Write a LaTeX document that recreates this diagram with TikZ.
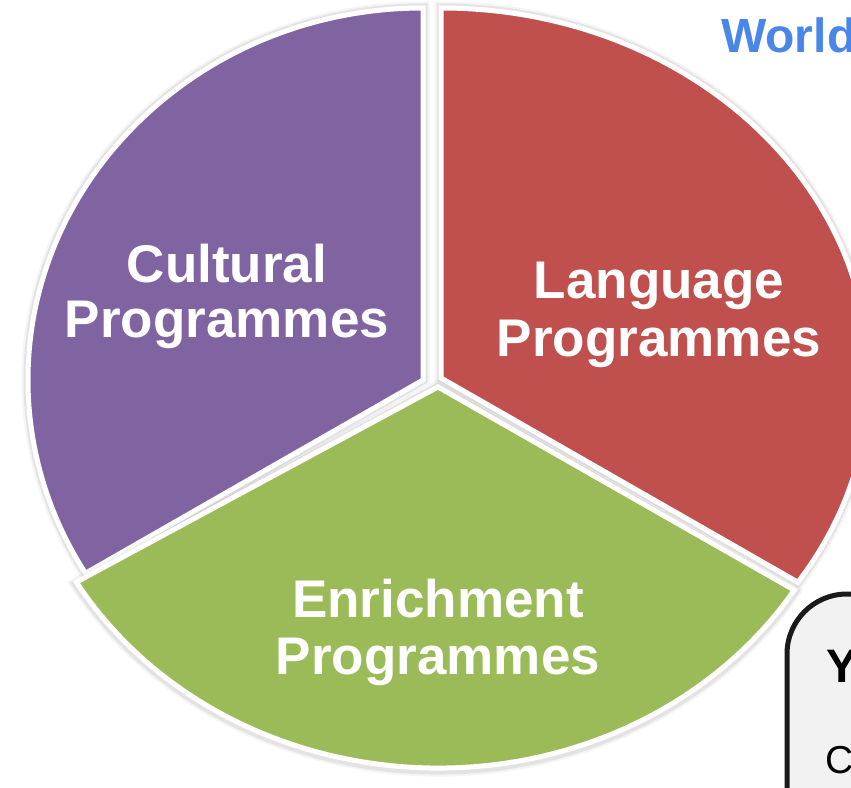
\documentclass[tikz,border=0pt]{standalone}
\usepackage{fontspec}
\setmainfont{Liberation Sans}
\definecolor{cpurple}{HTML}{8064A2}
\definecolor{cred}{HTML}{C0504D}
\definecolor{cgreen}{HTML}{9BBB59}
\definecolor{cblue}{HTML}{4A86E8}
\definecolor{cbox}{HTML}{F2F2F2}
\definecolor{cboxline}{HTML}{1A1A1A}
\tikzset{
  slice/.style={fill=#1, draw=white, line width=5pt, line join=miter},
  shadowa/.style={draw=black, line width=13pt, opacity=0.04, line join=miter},
  shadowb/.style={draw=black, line width=9pt, opacity=0.07, line join=miter},
  lbl/.style={text=white, font=\fontsize{53}{57}\selectfont\bfseries, inner sep=0pt, anchor=base},
}
\begin{document}
\begin{tikzpicture}[x=1pt,y=1pt]
\useasboundingbox (0,0) rectangle (851,-787);
\clip (0,0) rectangle (851,-787);
\fill[white] (0,0) rectangle (851,-787);
% purple slice
\coordinate (P) at (423,-380);
\draw[shadowa, shift={(0,-2)}] (P) -- ++(0,372) arc[start angle=90, end angle=211.3, x radius=395, y radius=372] -- cycle;
\draw[shadowb, shift={(0,-2)}] (P) -- ++(0,372) arc[start angle=90, end angle=211.3, x radius=395, y radius=372] -- cycle;
\draw[slice=cpurple] (P) -- ++(0,372) arc[start angle=90, end angle=211.3, x radius=395, y radius=372] -- cycle;
% red slice
\coordinate (R) at (441,-378);
\draw[shadowa, shift={(0,-2)}] (R) -- ++(0,370) arc[start angle=90, end angle=-33.5, x radius=428, y radius=370] -- cycle;
\draw[shadowb, shift={(0,-2)}] (R) -- ++(0,370) arc[start angle=90, end angle=-33.5, x radius=428, y radius=370] -- cycle;
\draw[slice=cred] (R) -- ++(0,370) arc[start angle=90, end angle=-33.5, x radius=428, y radius=370] -- cycle;
% green slice
\coordinate (G) at (438,-387);
\draw[shadowa, shift={(0,-2)}] (G) -- (76.4,-582.1) arc[start angle=210.8, end angle=327.8, x radius=421, y radius=381] -- cycle;
\draw[shadowb, shift={(0,-2)}] (G) -- (76.4,-582.1) arc[start angle=210.8, end angle=327.8, x radius=421, y radius=381] -- cycle;
\draw[slice=cgreen] (G) -- (76.4,-582.1) arc[start angle=210.8, end angle=327.8, x radius=421, y radius=381] -- cycle;
% labels
\node[lbl] (cult1) at (227,-282) {Cultural};
\node[lbl] (cult2) at (227,-337) {Programmes};
\node[lbl] (lang1) at (659,-298) {Language};
\node[lbl] (lang2) at (659,-356) {Programmes};
\node[lbl] (enr1) at (438,-617) {Enrichment};
\node[lbl] (enr2) at (438,-674) {Programmes};
% title fragment
\node[text=cblue, font=\fontsize{48}{52}\selectfont\bfseries, inner sep=0pt, anchor=base west] (world) at (721,-52) {World};
% box fragment
\draw[draw=cboxline, fill=cbox, line width=5pt, rounded corners=60pt] (787,-594) rectangle (1000,-950);
\node[font=\fontsize{47}{50}\selectfont\bfseries, inner sep=0pt, anchor=base west] (ytext) at (826,-682) {Y};
\node[font=\fontsize{39}{42}\selectfont, inner sep=0pt, anchor=base west] (ctext) at (825,-773) {C};
\end{tikzpicture}
\end{document}
